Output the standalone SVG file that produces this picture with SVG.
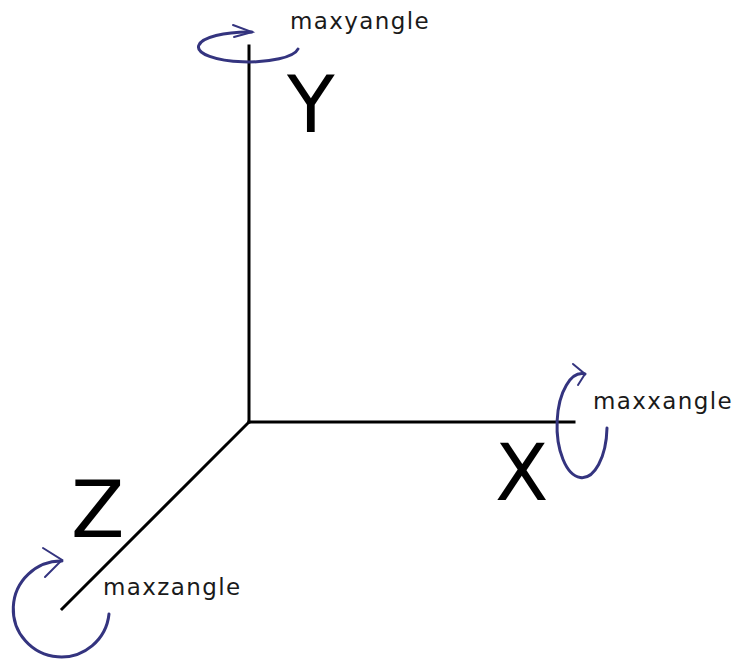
<svg xmlns="http://www.w3.org/2000/svg" width="737" height="661" viewBox="0 0 737 661">
<style>
.axis{stroke:#000;stroke-width:3;fill:none;stroke-linecap:square}
.rot{stroke:#34347f;stroke-width:3;fill:none;stroke-linecap:round;stroke-linejoin:round}
.head{stroke:#34347f;stroke-width:2;fill:none;stroke-linecap:round;stroke-linejoin:miter}
.big{font-family:"DejaVu Sans",sans-serif;font-size:78px;fill:#000}
.lbl{font-family:"DejaVu Sans",sans-serif;font-size:23px;fill:#1a1a1a;letter-spacing:1.4px}
</style>
<rect width="737" height="661" fill="#fff"/>
<g id="axes">
<line class="axis" x1="249" y1="46" x2="249" y2="422"/>
<line class="axis" x1="249" y1="422" x2="574" y2="422"/>
<line class="axis" x1="249" y1="422" x2="62" y2="609"/>
</g>
<g id="y-axis">
<text class="big" x="287" y="132">Y</text>
<path class="rot" d="M298 49 A50 15 0 1 1 252 32"/>
<path class="head" d="M233 25 L252 32 L234 37"/>
<text class="lbl" x="290" y="29">maxyangle</text>
</g>
<g id="x-axis">
<text class="big" x="495" y="500">X</text>
<path class="rot" d="M607 428 A25 52 0 1 1 585 374"/>
<path class="head" d="M573 364 L585 374 L578 385"/>
<text class="lbl" x="593" y="409">maxxangle</text>
</g>
<g id="z-axis">
<text class="big" x="71" y="537">Z</text>
<path class="rot" d="M109 614 A48 48 0 1 1 62 561"/>
<path class="head" d="M43 548 L62 560 L45 577"/>
<text class="lbl" x="103" y="595">maxzangle</text>
</g>
</svg>
